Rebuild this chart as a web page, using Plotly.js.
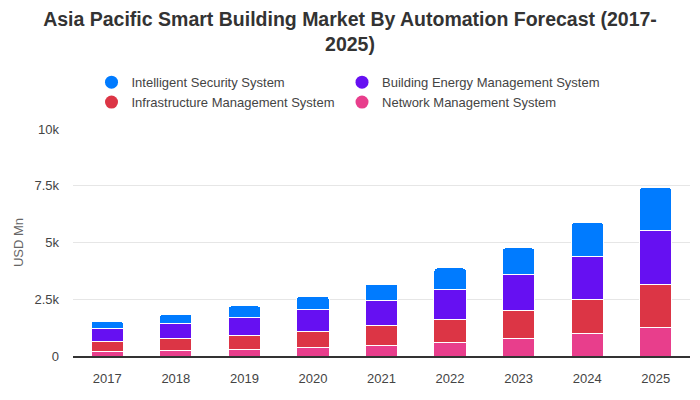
<!DOCTYPE html>
<html>
<head>
<meta charset="utf-8">
<script src="https://cdn.plot.ly/plotly-3.0.1.min.js"></script>
<style>html,body{margin:0;padding:0;background:#fff;} #chart{width:700px;height:400px;}</style>
</head>
<body>
<div id="chart"></div>
<script>
var years = ["2017","2018","2019","2020","2021","2022","2023","2024","2025"];
var network = [207, 250, 295, 383, 471, 604, 780, 1000, 1264];
var infrastructure = [441, 530, 617, 705, 881, 1013, 1233, 1498, 1895];
var energy = [555, 660, 793, 969, 1102, 1321, 1586, 1894, 2378];
var security = [339, 410, 498, 586, 718, 939, 1159, 1480, 1877];
var tickVals = [0, 2500, 5000, 7500, 10000];
var tickText = ["0", "2.5k", "5k", "7.5k", "10k"];

var names = ["Intelligent Security System", "Building Energy Management System", "Infrastructure Management System", "Network Management System"];
var colors = ["#007bff", "#6610f2", "#dc3545", "#e83e8c"];
var series = [security, energy, infrastructure, network];
var legendIds = ["legend", "legend2", "legend", "legend2"];

var traces = [];
for (var i = 3; i >= 0; i--) {
  traces.push({
    type: "bar", x: years, y: series[i], name: names[i],
    marker: {color: colors[i], line: {color: "#ffffff", width: 1}},
    showlegend: false, hoverinfo: "x+y+name"
  });
}
for (var j = 0; j < 4; j++) {
  traces.push({
    type: "scatter", mode: "markers", x: [null], y: [null], name: names[j],
    legend: legendIds[j],
    marker: {color: colors[j], size: 13, symbol: "circle"}, showlegend: true
  });
}

var legendCommon = {
  orientation: "v", traceorder: "normal", yanchor: "top", xanchor: "left",
  font: {size: 13, color: "#444"}, itemclick: false, itemdoubleclick: false,
  tracegroupgap: 0, bgcolor: "rgba(0,0,0,0)"
};

var layout = {
  width: 700, height: 400,
  margin: {l: 73, r: 10, t: 129, b: 44},
  paper_bgcolor: "#ffffff", plot_bgcolor: "#ffffff",
  font: {family: "Liberation Sans, Arial, sans-serif", color: "#444", size: 13},
  title: {
    text: "Asia Pacific Smart Building Market By Automation Forecast (2017-<br>2025)",
    font: {family: "Liberation Sans, Arial, sans-serif", size: 19.5, color: "#333", weight: "bold"},
    x: 0.5, xanchor: "center", xref: "container", yref: "container", y: 0.935, yanchor: "middle"
  },
  barmode: "stack",
  bargap: 0.53,
  barcornerradius: 3,
  showlegend: true,
  legend: Object.assign({}, legendCommon, {x: 0.03, y: 1.272}),
  legend2: Object.assign({}, legendCommon, {x: 0.436, y: 1.272}),
  xaxis: {
    type: "category", showgrid: false, showline: true, linecolor: "#333", linewidth: 1.5,
    ticks: "", ticklabelstandoff: 10, tickfont: {size: 13, color: "#444"}, fixedrange: true
  },
  yaxis: {
    range: [0, 10000], tickvals: tickVals, ticktext: tickText,
    showgrid: true, gridcolor: "#e6e6e6", zeroline: false, showline: false,
    ticks: "", ticklen: 0, ticklabelstandoff: 13, tickfont: {size: 13, color: "#444"},
    title: {text: "USD Mn", font: {size: 13, color: "#666"}, standoff: 7},
    fixedrange: true
  }
};

Plotly.newPlot("chart", traces, layout, {displayModeBar: false, staticPlot: true});
</script>
</body>
</html>
